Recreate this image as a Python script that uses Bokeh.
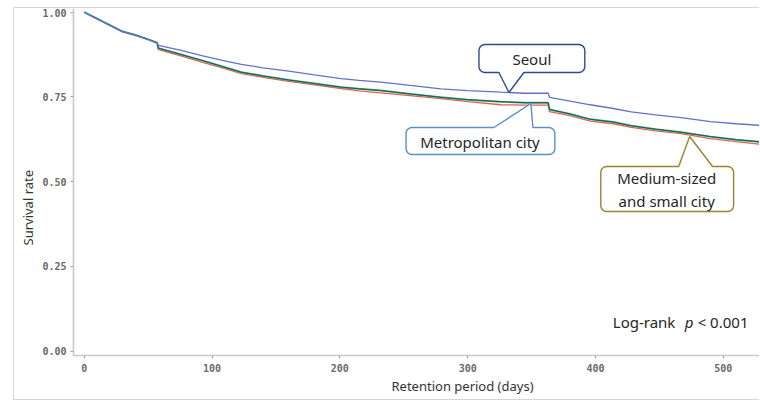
import numpy as np
from bokeh.plotting import figure
from bokeh.models import Label, NumeralTickFormatter, Range1d, Title
from bokeh.embed import file_html
from bokeh.resources import INLINE

# ---------------- data ----------------
days = [0, 10, 20, 30, 40, 50, 57, 58, 75, 92, 108, 123, 140, 160, 180, 201,
        215, 232, 255, 279, 300, 326, 345, 363, 364, 380, 396, 414, 428, 447, 467,
        490, 510, 530, 545]
seoul = [1.000, 0.981, 0.962, 0.943, 0.933, 0.920, 0.910, 0.902, 0.888, 0.872,
         0.858, 0.846, 0.836, 0.826, 0.815, 0.804, 0.799, 0.794, 0.784, 0.774,
         0.769, 0.764, 0.761, 0.761, 0.749, 0.738, 0.727, 0.716, 0.706, 0.697, 0.689,
         0.677, 0.671, 0.666, 0.664]
metropolitan = [1.000, 0.981, 0.962, 0.943, 0.933, 0.920, 0.910, 0.894, 0.876, 0.858,
                0.840, 0.823, 0.812, 0.800, 0.790, 0.779, 0.774, 0.769, 0.759, 0.749,
                0.742, 0.736, 0.733, 0.733, 0.713, 0.700, 0.684, 0.676, 0.665, 0.655, 0.646,
                0.633, 0.624, 0.617, 0.614]
medium_small = [1.000, 0.980, 0.961, 0.942, 0.932, 0.919, 0.909, 0.890, 0.872, 0.853,
                0.836, 0.819, 0.808, 0.796, 0.786, 0.775, 0.768, 0.762, 0.754, 0.745,
                0.736, 0.727, 0.726, 0.726, 0.707, 0.695, 0.679, 0.671, 0.660, 0.650, 0.642,
                0.627, 0.618, 0.610, 0.607]
x_ticks = [0, 100, 200, 300, 400, 500]
y_ticks = [0.0, 0.25, 0.50, 0.75, 1.00]

# ---------------- figure ----------------
p = figure(width=746, height=393, output_backend="svg", toolbar_location=None,
           x_range=Range1d(-8.4, 529.1), y_range=Range1d(-0.0127, 1.011),
           min_border_left=58, min_border_right=0, min_border_top=0,
           min_border_bottom=46)
p.styles = {"margin-left": "13px", "margin-top": "7px",
            "border-left": "1px solid #d6d6d6",
            "border-top": "1px solid #d6d6d6", "border-bottom": "1px solid #d6d6d6"}
p.outline_line_color = None
p.grid.visible = False
p.background_fill_color = "white"
p.border_fill_color = "white"

for ax in (p.xaxis[0], p.yaxis[0]):
    ax.axis_line_color = "#c5cacf"
    ax.axis_line_width = 1.6
    ax.major_tick_line_color = "#a8a8a8"
    ax.major_tick_out = 3
    ax.major_tick_in = 0
    ax.minor_tick_line_color = None
    ax.major_label_text_font = "DejaVu Sans Mono"
    ax.major_label_text_font_size = "10px"
    ax.major_label_text_font_style = "bold"
    ax.major_label_text_color = "#6a6a6a"
p.xaxis.ticker = x_ticks
p.yaxis.ticker = y_ticks
p.yaxis.formatter = NumeralTickFormatter(format="0.00")
p.xaxis.major_label_standoff = 5
p.yaxis.major_label_standoff = 4

# axis titles
p.add_layout(Title(text="Retention period (days)", align="left", offset=318,
                   text_font="Noto Sans", text_font_size="13px",
                   text_font_style="normal", text_color="#333333", standoff=0), "below")
p.add_layout(Title(text="Survival rate", align="left", offset=110,
                   text_font="Noto Sans", text_font_size="13px",
                   text_font_style="normal", text_color="#333333", standoff=5), "left")

# ---------------- curves ----------------
p.line(days, medium_small, line_color="#e8604a", line_width=1.3)
p.line(days, metropolitan, line_color="#45b095", line_width=2.0)
p.line(days, metropolitan, line_color="#1d3d33", line_width=0.8)
p.line(days, seoul, line_color="#6272cc", line_width=1.3)

# ---------------- pixel helpers for annotation placement ----------------
X0PX, XSC = 82.7, 1.28
Y0PX, YSC = 350.7, 339.0


def dx(px):
    return (px - X0PX) / XSC


def dy(py):
    return (Y0PX - py) / YSC


def callout(x0, y0, x1, y1, side, b0, b1, tip, color, r=6):
    pts = []

    def arc(cx, cy, a0, a1):
        for a in np.linspace(a0, a1, 7):
            pts.append((cx + r * np.cos(a), cy + r * np.sin(a)))

    arc(x0 + r, y0 + r, np.pi, 1.5 * np.pi)
    if side == "top":
        pts.extend([(b0, y0), tip, (b1, y0)])
    arc(x1 - r, y0 + r, 1.5 * np.pi, 2 * np.pi)
    arc(x1 - r, y1 - r, 0, 0.5 * np.pi)
    if side == "bottom":
        pts.extend([(b1, y1), tip, (b0, y1)])
    arc(x0 + r, y1 - r, 0.5 * np.pi, np.pi)
    pts.append(pts[0])
    xs = [dx(a) for a, _ in pts]
    ys = [dy(b) for _, b in pts]
    p.patch(xs, ys, fill_color="white", line_color=color, line_width=1.4)


def txt(px, py, s, size="15px", style="normal", align="center", baseline="middle",
        color="#262626"):
    p.add_layout(Label(x=dx(px), y=dy(py), text=s, text_font="Noto Sans",
                       text_font_size=size, text_font_style=style, text_align=align,
                       text_baseline=baseline, text_color=color))


callout(478, 44, 584, 72, "bottom", 498, 523, (508, 92), "#2d4b8c")
txt(531, 58, "Seoul")
callout(405, 127, 554, 154, "top", 493, 532, (530, 103), "#5d8fc6")
txt(479, 141, "Metropolitan city")
callout(600, 166, 733, 211, "top", 678, 712, (689, 136), "#a07f2e")
txt(666, 177, "Medium-sized")
txt(666, 200, "and small city")

# Log-rank text
txt(612, 322, "Log-rank", size="15px", align="left", baseline="alphabetic")
txt(684, 322, "p", size="15px", style="italic", align="left", baseline="alphabetic")
txt(697, 322, "< 0.001", size="15px", align="left", baseline="alphabetic")

open("out.html", "w").write(file_html(p, INLINE))
